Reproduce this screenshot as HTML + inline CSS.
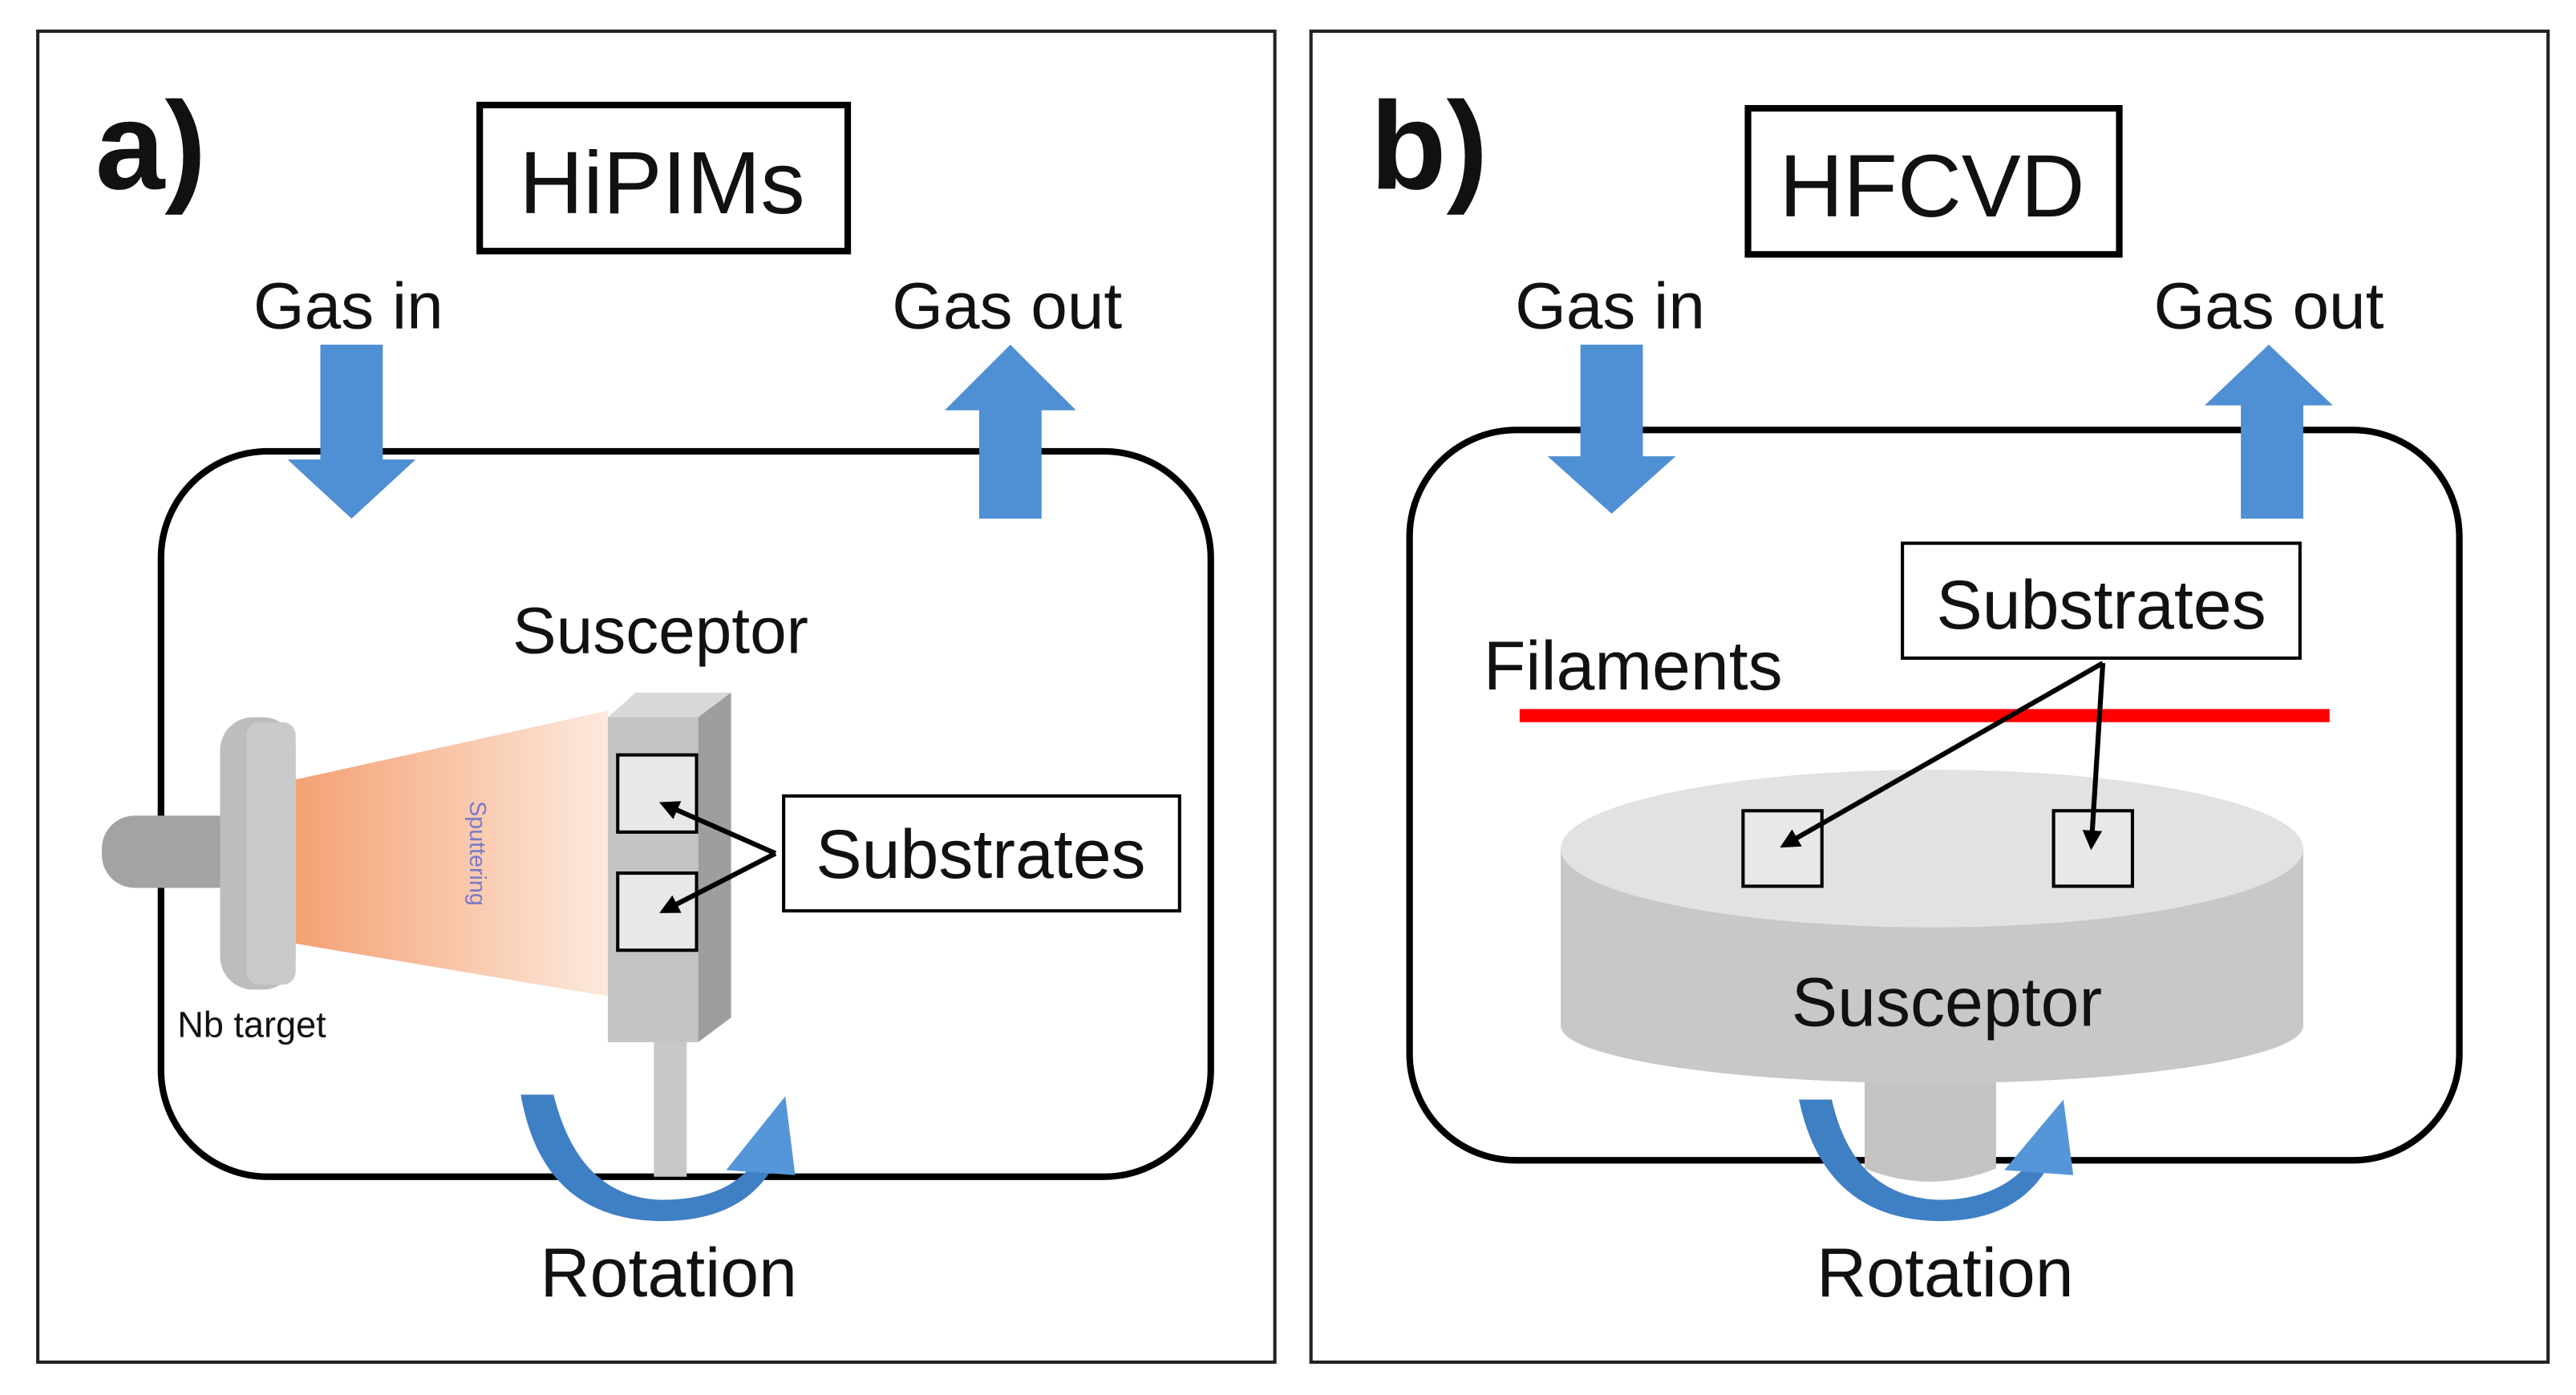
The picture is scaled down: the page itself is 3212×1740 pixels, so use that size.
<!DOCTYPE html>
<html><head><meta charset="utf-8"><style>
html,body{margin:0;padding:0;background:#fff;}
svg{display:block;}
text{font-family:"Liberation Sans","NanumGothic",sans-serif;fill:#111;}
</style></head><body>
<svg width="3212" height="1740" viewBox="0 0 1568 850" preserveAspectRatio="none" xmlns="http://www.w3.org/2000/svg">
<defs>
<linearGradient id="pl" x1="0" x2="1" y1="0" y2="0">
<stop offset="0" stop-color="#f4a173"/><stop offset="1" stop-color="#fde9dd"/>
</linearGradient>
<marker id="ah" markerWidth="12" markerHeight="12" refX="9" refY="6" orient="auto" markerUnits="userSpaceOnUse" viewBox="0 0 12 12">
<path d="M0,0 L12,6 L0,12 Z" fill="#000"/>
</marker>
</defs>
<rect x="0" y="0" width="1568" height="850" fill="#fff"/>
<!-- Panel a -->
<rect x="23" y="19" width="753" height="811" fill="none" stroke="#222" stroke-width="2"/>
<text x="58" y="115" font-size="76" font-weight="bold">a)</text>
<rect x="292" y="64" width="224" height="89" fill="none" stroke="#000" stroke-width="4"/>
<text x="403" y="130" font-size="54" text-anchor="middle">HiPIMs</text>
<text x="212" y="200" font-size="40" text-anchor="middle">Gas in</text>
<text x="613" y="200" font-size="40" text-anchor="middle">Gas out</text>
<rect x="98" y="275" width="639" height="442" rx="65" fill="none" stroke="#000" stroke-width="4"/>
<path d="M195,210 H233 V280 H253 L214,316 L175,280 H195 Z" fill="#4f8fd3"/>
<path d="M615,210 L655,250 H634 V316 H596 V250 H575 Z" fill="#4f8fd3"/>
<text x="402" y="398" font-size="40" text-anchor="middle">Susceptor</text>
<!-- target -->
<rect x="62" y="497" width="90" height="44" rx="20" fill="#a3a3a3"/>
<rect x="134" y="437" width="46" height="166" rx="20" fill="#bdbdbd"/>
<rect x="150" y="440" width="30" height="160" rx="8" fill="#cacaca"/>
<polygon points="180,475 370,433 370,607 180,575" fill="url(#pl)"/>
<text transform="translate(286,520) rotate(90)" font-size="14" fill="#7a7ac8" style="fill:#7a7ac8" text-anchor="middle">Sputtering</text>
<text x="108" y="632" font-size="22">Nb target</text>
<!-- susceptor block -->
<rect x="398" y="630" width="20" height="87" fill="#c8c8c8"/>
<polygon points="370,437 387,422 445,422 425,437" fill="#d8d8d8"/>
<polygon points="425,437 445,422 445,620 425,635" fill="#9e9e9e"/>
<rect x="370" y="437" width="55" height="198" fill="#c4c4c4"/>
<rect x="376" y="460" width="48" height="47" fill="#e8e8e8" stroke="#000" stroke-width="2"/>
<rect x="376" y="532" width="48" height="47" fill="#e8e8e8" stroke="#000" stroke-width="2"/>
<rect x="477" y="485" width="241" height="70" fill="#fff" stroke="#000" stroke-width="2"/>
<text x="597" y="535" font-size="42" text-anchor="middle">Substrates</text>
<line x1="472" y1="520" x2="404" y2="490" stroke="#000" stroke-width="3" marker-end="url(#ah)"/>
<line x1="472" y1="520" x2="404" y2="555" stroke="#000" stroke-width="3" marker-end="url(#ah)"/>
<path d="M317,667 L337,667 Q352,728 400,731 Q438,732 456,712 L470,712 Q450,745 400,744 Q330,742 317,667 Z" fill="#3f7fc4"/>
<polygon points="478,668 442,713 484,716" fill="#5596d8"/>
<text x="407" y="790" font-size="42" text-anchor="middle">Rotation</text>
<!-- Panel b -->
<rect x="798" y="19" width="753" height="811" fill="none" stroke="#222" stroke-width="2"/>
<text x="834" y="115" font-size="76" font-weight="bold">b)</text>
<rect x="1064" y="66" width="226" height="89" fill="none" stroke="#000" stroke-width="4"/>
<text x="1176" y="132" font-size="54" text-anchor="middle">HFCVD</text>
<text x="980" y="200" font-size="40" text-anchor="middle">Gas in</text>
<text x="1381" y="200" font-size="40" text-anchor="middle">Gas out</text>
<rect x="858" y="262" width="639" height="445" rx="65" fill="none" stroke="#000" stroke-width="4"/>
<path d="M962,210 H1000 V278 H1020 L981,313 L942,278 H962 Z" fill="#4f8fd3"/>
<path d="M1381,210 L1420,247 H1402 V316 H1364 V247 H1342 Z" fill="#4f8fd3"/>
<rect x="1158" y="331" width="242" height="70" fill="#fff" stroke="#000" stroke-width="2"/>
<text x="1279" y="383" font-size="42" text-anchor="middle">Substrates</text>
<text x="903" y="420" font-size="42">Filaments</text>
<!-- disc -->
<path d="M1135,640 V712 Q1175,728 1215,712 V640 Z" fill="#c4c4c4"/>
<path d="M950,517 V625 A226,35 0 0 0 1402,625 V517 Z" fill="#c8c8c8"/>
<ellipse cx="1176" cy="517" rx="226" ry="48" fill="#e2e2e2"/>
<text x="1185" y="625" font-size="42" text-anchor="middle">Susceptor</text>
<line x1="925" y1="436" x2="1418" y2="436" stroke="#f00" stroke-width="8"/>
<rect x="1061" y="494" width="48" height="46" fill="#e8e8e8" stroke="#000" stroke-width="2"/>
<rect x="1250" y="494" width="48" height="46" fill="#e8e8e8" stroke="#000" stroke-width="2"/>
<line x1="1280" y1="404" x2="1086" y2="515" stroke="#000" stroke-width="3" marker-end="url(#ah)"/>
<line x1="1280" y1="404" x2="1273" y2="515" stroke="#000" stroke-width="3" marker-end="url(#ah)"/>
<path d="M1095,670 L1115,670 Q1128,728 1178,731 Q1212,732 1232,712 L1246,712 Q1226,745 1178,744 Q1110,742 1095,670 Z" fill="#3f7fc4"/>
<polygon points="1256,670 1220,713 1262,716" fill="#5596d8"/>
<text x="1184" y="790" font-size="42" text-anchor="middle">Rotation</text>
</svg>
</body></html>
